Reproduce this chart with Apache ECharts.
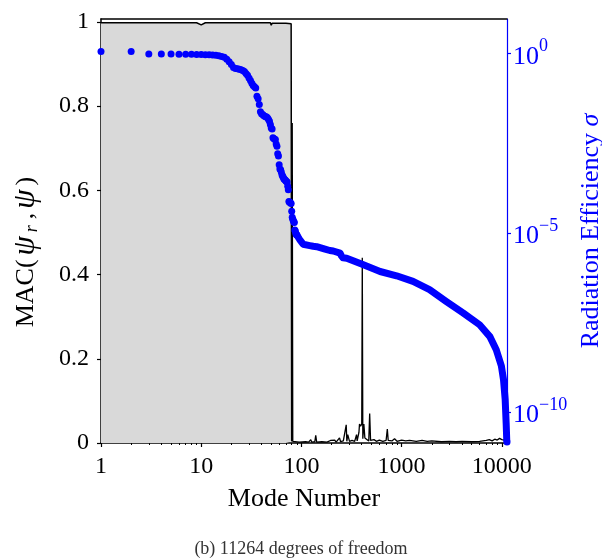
<!DOCTYPE html>
<html>
<head>
<meta charset="utf-8">
<script src="https://cdn.jsdelivr.net/npm/echarts@6/dist/echarts.min.js"></script>
<style>
html, body { margin: 0; padding: 0; background: #fff; }
#chart { width: 602px; height: 559px; }
</style>
</head>
<body>
<div id="chart"></div>
<script>
// MAC per mode (sparse reading of the black curve)
var macModes = [1, 9, 10, 11, 30, 49, 50, 51, 70, 79, 80, 81, 82,
  95, 110, 118, 124, 127, 136, 139, 142, 160, 180, 195, 200, 215, 222, 240, 246, 262, 270,
  280, 284, 290, 296, 302, 320, 340, 355, 360, 375, 380, 390, 400, 405, 410, 420, 430,
  470, 480, 490, 530, 560, 600, 650, 700, 720, 735, 800, 850, 900, 1000, 1100, 1200,
  1400, 1600, 1800, 2000, 2500, 3000, 3500, 4000, 5000, 6000, 7000, 7500, 8000, 8500,
  9000, 9500, 10000, 10300, 10600, 10900, 11000, 11264];
var macValues = [0.998, 0.998, 0.993, 0.998, 0.998, 0.998, 0.992, 0.997, 0.997, 0.996, 0.004, 0.76, 0.004,
  0.002, 0.003, 0.002, 0.008, 0.002, 0.003, 0.018, 0.002, 0.003, 0.002, 0.006, 0.002, 0.007, 0.002, 0.012, 0.003, 0.005, 0.003,
  0.043, 0.004, 0.02, 0.018, 0.004, 0.006, 0.004, 0.02, 0.005, 0.025, 0.045, 0.04, 0.045, 0.44, 0.01, 0.045, 0.012,
  0.005, 0.07, 0.006, 0.008, 0.004, 0.007, 0.004, 0.006, 0.033, 0.006, 0.005, 0.01, 0.004, 0.007, 0.005, 0.006,
  0.004, 0.006, 0.004, 0.005, 0.003, 0.004, 0.003, 0.004, 0.003, 0.004, 0.006, 0.008, 0.005, 0.009,
  0.007, 0.011, 0.008, 0.012, 0.007, 0.022, 0.006, 0.004];
var fillEndMode = 80;

// radiation efficiency, individual low modes
var sparseModes = [1, 2, 3, 4, 5, 6, 7, 8, 9, 10, 11, 12, 13, 14, 15, 16, 17, 18, 19, 20,
  21, 22, 23, 24, 25, 26, 27, 28, 29, 30, 31, 32, 33, 34, 35, 36, 37, 38, 39, 40,
  41, 42, 43, 44, 45, 46, 47, 48, 49, 50, 51, 52, 53, 54, 55, 56, 57, 58, 59, 60,
  61, 62, 63, 64, 65, 66, 67, 68, 69, 70, 71, 72, 73, 74, 75, 76, 77, 78, 79, 80,
  81, 82, 83, 84, 85, 86, 87, 88, 89, 90];
var sparseSigma = [1.16, 1.16, 0.98, 0.98, 0.98, 0.97, 0.97, 0.96, 0.95, 0.95, 0.94, 0.93, 0.92, 0.91, 0.88, 0.84, 0.8, 0.7, 0.6, 0.5,
  0.41, 0.39, 0.38, 0.37, 0.36, 0.34, 0.32, 0.28, 0.25, 0.21, 0.18, 0.15, 0.13, 0.12, 0.11, 0.065, 0.055, 0.038, 0.024, 0.021,
  0.02, 0.019, 0.018, 0.0175, 0.017, 0.016, 0.0145, 0.013, 0.0105, 0.0085, 0.0079, 0.0045, 0.0043, 0.0041, 0.004, 0.003, 0.0026, 0.0016, 0.0014, 0.0008,
  0.0006, 0.00058, 0.0005, 0.00042, 0.00038, 0.00035, 0.00032, 0.00031, 0.0003, 0.00028, 0.00027, 0.00026, 0.0002, 0.00016, 0.000075, 0.000072, 0.00007, 0.000068, 0.000066, 0.00004,
  0.000027, 0.000024, 0.000022, 0.00002, 0.0000195, 0.000012, 0.000011, 0.0000095, 0.000009, 0.0000087];

// radiation efficiency, dense high modes (read along the band)
var denseModes = [90, 97, 104, 121, 131, 142, 172, 192, 208, 243, 250, 260, 283, 305, 410, 610, 890,
  1300, 1900, 2800, 4100, 6000, 7600, 8800, 9900, 10400, 10800, 11050, 11200];
var denseSigma = [8.7e-6, 6.2e-6, 4.8e-6, 4.4e-6, 4.2e-6, 4.1e-6, 3.5e-6, 3.2e-6, 3.1e-6, 2.7e-6, 2.3e-6, 2.0e-6, 1.95e-6, 1.8e-6, 1.3e-6, 8.3e-7, 6.3e-7,
  4.4e-7, 2.6e-7, 1.2e-7, 5.8e-8, 2.7e-8, 1.26e-8, 5.4e-9, 1.9e-9, 7.8e-10, 2.2e-10, 4.8e-11, 1.6e-11];
var lastMode = [11264];
var lastSigma = [1.45e-11];

// ticks
var xTicks = [1, 10, 100, 1000, 10000];
var xMinorTicks = [2, 3, 4, 5, 6, 7, 8, 9, 20, 30, 40, 50, 60, 70, 80, 90,
  200, 300, 400, 500, 600, 700, 800, 900, 2000, 3000, 4000, 5000, 6000, 7000, 8000, 9000];
var macTicks = [0, 0.2, 0.4, 0.6, 0.8, 1];
var sigmaTicks = [1, 1e-5, 1e-10];

var blue = '#0000ff';
var serif = '"Liberation Serif", "DejaVu Serif", serif';

function pairs(xs, ys, from, to) {
  var out = [];
  for (var i = 0; i < xs.length; i++) {
    if (xs[i] >= from && xs[i] <= to) out.push([xs[i], ys[i]]);
  }
  return out;
}

var myChart = echarts.init(document.getElementById('chart'));

var option = {
  animation: false,
  backgroundColor: '#fff',
  title: {
    text: '(b) 11264 degrees of freedom',
    left: 'center',
    top: 535,
    textStyle: { fontFamily: serif, fontSize: 18, fontWeight: 'normal', color: '#333' }
  },
  grid: {
    left: 101, right: 95, top: 19, bottom: 116,
    outerBoundsMode: 'none', containLabel: false
  },
  xAxis: [
    {
      type: 'log', logBase: 10, min: 1, max: 11264,
      name: 'Mode Number', nameLocation: 'middle', nameGap: 43,
      nameTextStyle: { fontFamily: serif, fontSize: 26, color: '#000' },
      axisLine: { lineStyle: { color: '#000', width: 1.5 } },
      axisTick: { customValues: xTicks, length: 4, lineStyle: { color: '#000', width: 1.2 } },
      axisLabel: { customValues: xTicks, fontFamily: serif, fontSize: 24, color: '#000', margin: 12,
        formatter: function (v) { return String(Math.round(v)); } },
      splitLine: { show: false }, minorTick: { show: false }
    },
    {
      type: 'log', logBase: 10, min: 1, max: 11264, position: 'bottom',
      axisLine: { show: false },
      axisTick: { customValues: xMinorTicks, length: 2, lineStyle: { color: '#000', width: 1 } },
      axisLabel: { show: false },
      splitLine: { show: false }
    },
    {
      type: 'log', logBase: 10, min: 1, max: 11264, position: 'top',
      axisLine: { show: true, lineStyle: { color: '#000', width: 1.5 } },
      axisTick: { show: false },
      axisLabel: { show: false },
      splitLine: { show: false }
    }
  ],
  yAxis: [
    {
      type: 'value', min: 0, max: 1.007,
      name: 'MAC({i|ψ}{sub|r},{i|ψ})', nameLocation: 'middle', nameGap: 60,
      nameTextStyle: {
        fontFamily: serif, fontSize: 26, color: '#000', lineHeight: 30, padding: [0, 42, 0, 0],
        rich: {
          i: { fontFamily: serif, fontSize: 31, fontStyle: 'italic', color: '#000', lineHeight: 30, padding: [0, 4, 0, 4] },
          sub: { fontFamily: serif, fontSize: 18, fontStyle: 'italic', color: '#000', lineHeight: 17, verticalAlign: 'bottom', padding: [0, 6, 0, 0] }
        }
      },
      axisLine: { show: true, lineStyle: { color: '#000', width: 1.5 } },
      axisTick: { show: true, customValues: macTicks, length: 4, lineStyle: { color: '#000', width: 1.2 } },
      axisLabel: { customValues: macTicks, fontFamily: serif, fontSize: 24, color: '#000', margin: 12 },
      splitLine: { show: false }
    },
    {
      type: 'log', logBase: 10, min: Math.pow(10, -10.87), max: Math.pow(10, 0.97), position: 'right',
      name: 'Radiation Efficiency {i|σ}', nameLocation: 'middle', nameGap: 70, nameRotate: 90,
      nameTextStyle: {
        fontFamily: serif, fontSize: 26, color: blue,
        rich: { i: { fontFamily: serif, fontSize: 26, fontStyle: 'italic', color: blue } }
      },
      axisLine: { show: true, lineStyle: { color: blue, width: 1.2 } },
      axisTick: { show: true, customValues: sigmaTicks, length: 4, lineStyle: { color: blue, width: 1.2 } },
      axisLabel: {
        customValues: sigmaTicks, margin: 6,
        formatter: function (v) {
          var e = Math.round(Math.log(v) / Math.LN10);
          return '{b|10}{s|' + (e < 0 ? '\u2212' + (-e) : e) + '}';
        },
        rich: {
          b: { fontFamily: serif, fontSize: 26, color: blue, lineHeight: 32, verticalAlign: 'bottom' },
          s: { fontFamily: serif, fontSize: 18, color: blue, lineHeight: 17, verticalAlign: 'top' }
        }
      },
      splitLine: { show: false }, minorTick: { show: false }
    }
  ],
  series: [
    {
      name: 'MAC fill', type: 'line', xAxisIndex: 0, yAxisIndex: 0,
      data: pairs(macModes, macValues, 1, fillEndMode),
      symbol: 'none', lineStyle: { color: '#000', width: 1.5 },
      areaStyle: { color: '#d9d9d9', opacity: 1 }, z: 1
    },
    {
      name: 'MAC', type: 'line', xAxisIndex: 0, yAxisIndex: 0,
      data: pairs(macModes, macValues, fillEndMode, 20000),
      symbol: 'none', lineStyle: { color: '#000', width: 1.3 }, z: 2
    },
    {
      name: 'sigma dense', type: 'line', xAxisIndex: 0, yAxisIndex: 1,
      data: pairs(denseModes, denseSigma, 0, 20000),
      symbol: 'none', lineStyle: { color: blue, width: 7, cap: 'round', join: 'round' }, z: 3
    },
    {
      name: 'sigma', type: 'scatter', xAxisIndex: 0, yAxisIndex: 1,
      data: pairs(sparseModes, sparseSigma, 0, 20000).concat(pairs(lastMode, lastSigma, 0, 20000)),
      symbolSize: 7, itemStyle: { color: blue, opacity: 1 }, clip: false, z: 4
    }
  ]
};
myChart.setOption(option);
</script>
</body>
</html>
